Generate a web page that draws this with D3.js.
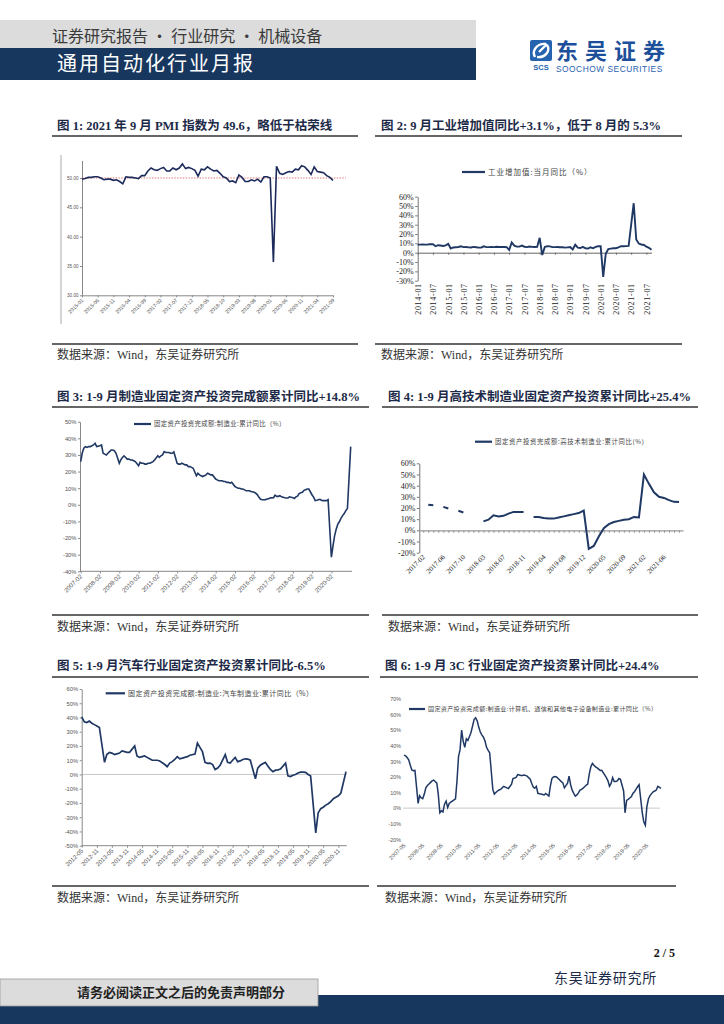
<!DOCTYPE html>
<html>
<head>
<meta charset="utf-8">
<title>通用自动化行业月报</title>
<script src="https://d3js.org/d3.v7.min.js"></script>
<style>
  body { margin: 0; background: #fff; }
</style>
</head>
<body>
<div id="page"></div>
<script>
// ---------- data ----------
// fig 1: PMI, monthly from 2015-01
var pmiStart = '2015-01';
var pmiValues = [
  49.8, 49.9, 50.1, 50.1, 50.2, 50.2, 50.0, 49.7, 49.8, 49.8, 49.6, 49.7,
  49.4, 49.0, 50.2, 50.1, 50.1, 50.0, 49.9, 50.4, 50.4, 51.2, 51.7, 51.4,
  51.3, 51.6, 51.8, 51.2, 51.2, 51.7, 51.4, 51.7, 52.4, 51.6, 51.8, 51.6,
  51.3, 50.3, 51.5, 51.4, 51.9, 51.5, 51.2, 51.3, 50.8, 50.2, 50.0, 49.4,
  49.5, 49.2, 50.5, 50.1, 49.4, 49.4, 49.7, 49.5, 49.8, 49.3, 50.2, 50.2,
  50.0, 35.7, 52.0, 50.8, 50.6, 50.9, 51.1, 51.0, 51.5, 51.4, 52.1, 51.9,
  51.3, 50.6, 51.9, 51.1, 51.0, 50.9, 50.4, 50.1, 49.6
];
var pmiTicks = ['2015-01','2015-06','2015-11','2016-04','2016-09','2017-02','2017-07','2017-12',
  '2018-05','2018-10','2019-03','2019-08','2020-01','2020-06','2020-11','2021-04','2021-09'];
var pmiYTicks = [30, 35, 40, 45, 50];
var pmiLine = 50;

// fig 2: industrial value added yoy, monthly from 2014-01
var ivaStart = '2014-01';
var ivaValues = [
  8.6, 8.6, 8.8, 8.7, 8.8, 9.2, 9.0, 6.9, 8.0, 7.7, 7.2, 7.9,
  9.5, 4.5, 5.6, 5.9, 6.1, 6.8, 6.0, 6.1, 5.7, 5.6, 6.2, 5.9,
  5.4, 5.4, 6.8, 6.0, 6.0, 6.2, 6.0, 6.3, 6.1, 6.1, 6.2, 6.0,
  3.0, 11.0, 7.6, 6.5, 6.5, 7.6, 6.4, 6.0, 6.6, 6.2, 6.1, 6.2,
  16.0, -2.5, 6.0, 7.0, 6.8, 6.0, 6.0, 6.1, 5.8, 5.9, 5.4, 5.7,
  6.0, 3.4, 8.5, 5.4, 5.0, 6.3, 4.8, 4.4, 5.8, 4.7, 6.2, 6.9,
  7.0, -25.9, -1.1, 3.9, 4.4, 4.8, 4.8, 5.6, 6.9, 6.9, 7.0, 7.3,
  30.0, 53.0, 14.1, 9.8, 8.8, 8.3, 6.4, 5.3, 3.1
];
var ivaTicks = ['2014-01','2014-07','2015-01','2015-07','2016-01','2016-07','2017-01','2017-07',
  '2018-01','2018-07','2019-01','2019-07','2020-01','2020-07','2021-01','2021-07'];
var ivaYTicks = [-30, -20, -10, 0, 10, 20, 30, 40, 50, 60];

// fig 3: manufacturing FAI cumulative yoy, Feb..Dec each year from 2007-02
var mfgStart = '2007-02';
var mfgValues = [
  26, 31, 34, 35, 34.5, 35, 35, 35.5, 36, 37, 35,
  35.5, 36, 31, 30.5, 30, 31, 32, 33, 33, 32.5, 31,
  25, 27, 28.5, 29.5, 28.5, 27.5, 27.5, 27, 27, 26.5, 26,
  23.5, 25.5, 25, 25, 24.5, 24.5, 25, 25, 25.5, 26, 27,
  29.5, 28.5, 29.5, 30, 32, 31.5, 31.5, 31.5, 31, 31, 31.8,
  25, 24.5, 24.5, 25, 24.5, 24, 24, 23, 23, 22.5, 22,
  17.5, 19, 18, 17.5, 17, 17.5, 18, 19, 18.5, 18, 18,
  15.5, 15, 14.5, 14.5, 14.5, 14, 14, 13.5, 13.5, 13, 13.5,
  11, 10.5, 10, 10, 9.5, 9.5, 9, 8.5, 8.5, 8.5, 8,
  7.5, 7, 6, 4.5, 3.3, 3, 3, 3.1, 3.5, 3.6, 4.2,
  4.3, 5.8, 5.1, 5.1, 5.5, 4.8, 4.5, 4.2, 4.1, 4.1, 4.8,
  4.3, 3.8, 4.8, 5.2, 6.8, 7.3, 7.5, 8.7, 9.1, 9.5, 9.5,
  5.9, 4.6, 2.5, 2.7, 3.0, 3.3, 2.6, 2.5, 2.6, 2.5, 3.1,
  -31.5, -25.2, -18.8, -14.8, -11.7, -10.2, -8.1, -6.5, -5.3, -3.5, -2.2,
  35
];
var mfgTicks = ['2007-02','2008-02','2009-02','2010-02','2011-02','2012-02','2013-02',
  '2014-02','2015-02','2016-02','2017-02','2018-02','2019-02','2020-02'];
var mfgYTicks = [-40, -30, -20, -10, 0, 10, 20, 30, 40, 50];

// fig 4: high-tech manufacturing FAI cumulative yoy, Feb..Dec from 2017-02 (gaps = no data)
var hiStart = '2017-02';
var hiValues = [
  null, 23, 22.5, null, 21, 19.5, null, 17.5, 16, null, null, null,
  8, 9.5, 13.5, 12.5, 13, 15, 16.5, 16.5, 16.5, null,
  12, 12, 11, 10.5, 10.5, 11.5, 12.5, 13.5, 14.5, 15.5, 17.7,
  -16.5, -14, -5.5, 2, 5.5, 7.5, 8.5, 9.5, 10, 12, 11.5,
  50, 41.6, 34, 30, 29, 27, 25.5, 25.4
];
var hiTicks = ['2017-02','2017-06','2017-10','2018-03','2018-07','2018-11','2019-04',
  '2019-08','2019-12','2020-05','2020-09','2021-02','2021-06'];
var hiYTicks = [-20, -10, 0, 10, 20, 30, 40, 50, 60];

// fig 5: auto manufacturing FAI cumulative yoy, from 2012-05, January not published
var autoStart = '2012-05';
var autoValues = [
  40.5, 37, 36.5, 37.5, 36, 35, 34, 33,
  8.5, 14, 15.5, 15, 14, 14.5, 15, 16.5, 16, 15.5, 15.5,
  20, 13, 12, 12.5, 13, 12, 11, 10, 10, 10, 9.5,
  7, 5.5, 8, 9, 10.5, 12.5, 11, 11.5, 12, 12.5, 13.5,
  14.3, 22, 19, 16, 8.5, 7.8, 8, 7, 3.5, 4.5, 6.5,
  14, 8.5, 8, 10, 12, 9, 9.5, 10.5, 11, 10.8, 10,
  -3, 4.5, 6.5, 7.5, 8.5, 6, 3.5, 2, 3, 3.2, 3.8,
  8, -1, -1.5, -0.5, 0, 1, 1.6, 1.6, 1.5, 0, -1,
  -41, -27, -24, -23, -21.5, -20.5, -19, -17, -16, -15, -13,
  2
];
var autoTicks = ['2012-05','2012-11','2013-05','2013-11','2014-05','2014-11','2015-05','2015-11',
  '2016-05','2016-11','2017-05','2017-11','2018-05','2018-11','2019-05','2019-11','2020-05','2020-11'];
var autoYTicks = [-50, -40, -30, -20, -10, 0, 10, 20, 30, 40, 50, 60];

// fig 6: computer/communication/electronics FAI cumulative yoy, from 2007-05, January not published
var cccStart = '2007-05';
var cccValues = [
  34, 33.5, 32.5, 31, 27.5, 24.5, 24, 24.2,
  3, 8, 6.5, 6, 9, 13, 14.5, 15.5, 16.5, 17.5, 18,
  16, 9, -3, -1.7, -2.4, 2.5, 4.5, 0.4, 3, 3.8, 4.5,
  6, 17, 33, 37.5, 50, 43, 39, 44.5, 43.5, 46, 48.5,
  57, 58, 56, 52, 48.8, 47, 45.5, 43, 39, 37, 35.5,
  12, 9, 10, 11, 11.6, 12, 13, 14, 13.5, 13, 12.6,
  15.4, 19, 19.3, 19.7, 21.5, 21.3, 21, 21, 21.2, 21, 20.5,
  18.5, 16, 13.5, 12.8, 14, 9.5, 9.2, 9, 8.7, 8.4, 9.4,
  7.7, 14, 19, 20, 20.3, 20, 19, 18, 17, 16.2, 13,
  16, 20.5, 15, 11.5, 9.5, 7.7, 8.5, 9.8, 11.6, 12, 12.8,
  14.8, 15.4, 22, 26.5, 28.7, 27.5, 26.5, 25.8, 25, 24.2, 24.3,
  21, 19.5, 17.5, 14, 15.8, 19.5, 17, 17, 17.5, 19, 18.5,
  11, -3, 5, 5.6, 6.5, 7.3, 9.4, 10.5, 12, 13.7, 15,
  -3, -8.8, -11, 1, 6, 8, 9.3, 10.5, 11, 11.6, 14,
  12.6
];
var cccTicks = ['2007-05','2008-05','2009-05','2010-05','2011-05','2012-05','2013-05',
  '2014-05','2015-05','2016-05','2017-05','2018-05','2019-05','2020-05'];
var cccYTicks = [-20, -10, 0, 10, 20, 30, 40, 50, 60, 70];

// ---------- helpers ----------
var NAVY = '#1f3864';
var SERIF = '"Liberation Serif", "Noto Sans CJK SC", serif';
var SANS = '"Liberation Sans", "Noto Sans CJK SC", sans-serif';
var CJK = '"Noto Sans CJK SC", "Liberation Serif", serif';

// month labels "YYYY-MM" starting at start, optionally skipping January
function monthLabels(start, n, skipJan) {
  var p = start.split('-'), y = +p[0], m = +p[1], out = [];
  while (out.length < n) {
    if (!(skipJan && m === 1)) out.push(y + '-' + (m < 10 ? '0' + m : m));
    m++;
    if (m > 12) { m = 1; y++; }
  }
  return out;
}
function parseMonth(s) { var p = s.split('-'); return new Date(+p[0], +p[1] - 1, 1); }

function styleAxis(g, font, size, color, lineColor) {
  g.attr('font-family', font).attr('font-size', size);
  g.select('.domain').attr('stroke', lineColor || '#888');
  g.selectAll('.tick line').attr('stroke', lineColor || '#888');
  g.selectAll('.tick text').attr('fill', color);
}
function rotateLabels(g, off, angle) {
  g.selectAll('.tick text')
    .attr('x', 0).attr('y', 0).attr('dy', '0.35em')
    .attr('text-anchor', 'end')
    .attr('transform', 'translate(0,' + off + ') rotate(' + angle + ')');
}
function hline(x1, x2, y, color, w) {
  return svg.append('line').attr('x1', x1).attr('x2', x2).attr('y1', y).attr('y2', y)
    .attr('stroke', color).attr('stroke-width', w);
}
function legend(x1, x2, y, label, size, spacing) {
  hline(x1, x2, y, NAVY, 2.2);
  svg.append('text').attr('x', x2 + 3).attr('y', y + size * 0.36)
    .attr('font-family', CJK).attr('font-size', size).attr('letter-spacing', spacing || 0)
    .attr('fill', '#444').text(label);
}

var svg = d3.select('#page').append('svg').attr('width', 724).attr('height', 1024);

// ---------- header ----------
svg.append('rect').attr('x', 0).attr('y', 20).attr('width', 476).attr('height', 28).attr('fill', '#dcdcdc');
svg.append('rect').attr('x', 0).attr('y', 48).attr('width', 476).attr('height', 32).attr('fill', '#17375e');
svg.append('text').attr('x', 52).attr('y', 42).attr('font-family', CJK).attr('font-size', 16)
  .attr('fill', '#3a3a3a').text('证券研究报告 · 行业研究 · 机械设备');
svg.append('text').attr('x', 57).attr('y', 71).attr('font-family', CJK).attr('font-size', 20)
  .attr('letter-spacing', 2).attr('fill', '#fff').text('通用自动化行业月报');

// logo
svg.append('rect').attr('x', 530).attr('y', 40).attr('width', 22).attr('height', 21).attr('rx', 2).attr('fill', '#2563b0');
svg.append('path').attr('d', 'M535,57 C531,50 538,43 546,44 M547,44 L539,52 M547,45 C551,51 545,58 537,57')
  .attr('fill', 'none').attr('stroke', '#fff').attr('stroke-width', 2.4);
svg.append('text').attr('x', 541).attr('y', 70).attr('text-anchor', 'middle').attr('font-family', SANS)
  .attr('font-size', 7.5).attr('font-weight', 'bold').attr('fill', '#2563b0').text('SCS');
svg.append('text').attr('x', 556).attr('y', 58.5).attr('font-family', CJK).attr('font-size', 22)
  .attr('font-weight', 'bold').attr('letter-spacing', 7).attr('fill', '#1e4f9a').text('东吴证券');
svg.append('text').attr('x', 556).attr('y', 71.5).attr('font-family', SANS).attr('font-size', 8.4)
  .attr('letter-spacing', 0.5).attr('fill', '#2a62b0').text('SOOCHOW SECURITIES');

// ---------- titles / sources ----------
var titles = [
  { x: 57, y: 129.5, t: '图 1:  2021 年 9 月 PMI 指数为 49.6，略低于枯荣线' },
  { x: 381, y: 129.5, t: '图 2:  9 月工业增加值同比+3.1%，低于 8 月的 5.3%' },
  { x: 57, y: 400.5, t: '图 3:  1-9 月制造业固定资产投资完成额累计同比+14.8%' },
  { x: 388, y: 400.5, t: '图 4:  1-9 月高技术制造业固定资产投资累计同比+25.4%' },
  { x: 57, y: 670, t: '图 5:  1-9 月汽车行业固定资产投资累计同比-6.5%' },
  { x: 385, y: 670, t: '图 6:  1-9 月 3C 行业固定资产投资累计同比+24.4%' }
];
titles.forEach(function(d) {
  svg.append('text').attr('x', d.x).attr('y', d.y).attr('font-family', SERIF)
    .attr('font-size', 12.5).attr('font-weight', 'bold').attr('fill', '#1c2a48').text(d.t);
});
hline(52, 358, 136, '#333', 1.6); hline(375, 682, 136, '#333', 1.6);
hline(52, 369, 407, '#333', 1.6); hline(382, 698, 407, '#333', 1.6);
hline(52, 369, 677, '#333', 1.6); hline(380, 698, 677, '#333', 1.6);

var sources = [[57, 359, 52, 358, 344], [381, 359, 375, 682, 344],
  [57, 630.5, 52, 369, 615], [388, 630.5, 382, 698, 615],
  [57, 901.5, 52, 369, 886], [385, 901.5, 377, 676, 886]];
sources.forEach(function(s) {
  hline(s[2], s[3], s[4], '#333', 1.4);
  svg.append('text').attr('x', s[0]).attr('y', s[1]).attr('font-family', SERIF)
    .attr('font-size', 12).attr('fill', '#333').text('数据来源：Wind，东吴证券研究所');
});

// ---------- fig 1 ----------
(function() {
  var cats = monthLabels(pmiStart, pmiValues.length, false);
  var x = d3.scalePoint().domain(cats).range([82, 333]);
  var y = d3.scaleLinear().domain([30, 53]).range([295.3, 160.4]);

  svg.append('line').attr('x1', 61).attr('x2', 61).attr('y1', 155).attr('y2', 324)
    .attr('stroke', '#aaa').attr('stroke-width', 1);

  var gy = svg.append('g').attr('transform', 'translate(82,0)')
    .call(d3.axisLeft(y).tickValues(pmiYTicks).tickFormat(d3.format('.2f')).tickSize(2).tickPadding(1.5).tickSizeOuter(0));
  styleAxis(gy, SANS, 4.6, '#555');

  var gx = svg.append('g').attr('transform', 'translate(0,' + y(30) + ')')
    .call(d3.axisBottom(x).tickValues(pmiTicks).tickSize(2).tickSizeOuter(0));
  styleAxis(gx, SANS, 5.2, '#555');
  rotateLabels(gx, 4, -45);

  // boom-bust line at 50
  hline(82, 346, y(pmiLine), '#e2625e', 0.9).attr('stroke-dasharray', '1.4,1.4');

  svg.append('path').datum(pmiValues)
    .attr('d', d3.line().x(function(d, i) { return x(cats[i]); }).y(function(d) { return y(d); }))
    .attr('fill', 'none').attr('stroke', '#1c2a5c').attr('stroke-width', 1.6);
})();

// ---------- fig 2 ----------
(function() {
  var cats = monthLabels(ivaStart, ivaValues.length, false);
  var x = d3.scalePoint().domain(cats).range([417.7, 651.5]);
  var y = d3.scaleLinear().domain([-30, 60]).range([280.7, 196.7]);

  legend(462, 485, 172, '工业增加值:当月同比（%）', 7.5, 1);

  var gy = svg.append('g').attr('transform', 'translate(417.7,0)')
    .call(d3.axisLeft(y).tickValues(ivaYTicks).tickFormat(function(d) { return d + '%'; })
      .tickSize(2.5).tickPadding(1.5).tickSizeOuter(0));
  styleAxis(gy, SERIF, 8, '#222', '#777');

  var gz = svg.append('g').attr('transform', 'translate(0,' + y(0) + ')')
    .call(d3.axisBottom(x).tickValues(ivaTicks).tickFormat('').tickSize(2).tickSizeOuter(0));
  styleAxis(gz, SERIF, 8, '#222', '#666');

  var gl = svg.append('g').attr('transform', 'translate(0,' + y(-30) + ')')
    .call(d3.axisBottom(x).tickValues(ivaTicks).tickSize(0).tickSizeOuter(0));
  styleAxis(gl, SERIF, 8, '#222');
  gl.select('.domain').remove();
  rotateLabels(gl, 2.5, -90);
  gl.selectAll('.tick text').attr('letter-spacing', 0.7);

  svg.append('path').datum(ivaValues)
    .attr('d', d3.line().x(function(d, i) { return x(cats[i]); }).y(function(d) { return y(d); }))
    .attr('fill', 'none').attr('stroke', NAVY).attr('stroke-width', 1.9);
})();

// ---------- fig 3 ----------
(function() {
  var dates = monthLabels(mfgStart, mfgValues.length, true).map(parseMonth);
  var x = d3.scaleTime().domain([parseMonth('2007-02'), parseMonth('2021-02')]).range([80.7, 350.7]);
  var y = d3.scaleLinear().domain([-40, 50]).range([571.3, 421.7]);

  legend(134, 151, 424, '固定资产投资完成额:制造业:累计同比（%）', 6.4, 0.35);

  var gy = svg.append('g').attr('transform', 'translate(80,0)')
    .call(d3.axisLeft(y).tickValues(mfgYTicks).tickFormat(function(d) { return d + '%'; })
      .tickSize(2).tickPadding(1.5).tickSizeOuter(0));
  styleAxis(gy, SANS, 5.8, '#555');

  var gx = svg.append('g').attr('transform', 'translate(0,' + y(-40) + ')')
    .call(d3.axisBottom(x).tickValues(mfgTicks.map(parseMonth)).tickFormat(d3.timeFormat('%Y-%m'))
      .tickSize(2).tickSizeOuter(0));
  styleAxis(gx, SANS, 6.2, '#555');
  gx.select('.domain').attr('d', 'M80,0H352');
  rotateLabels(gx, 4, -45);

  svg.append('path').datum(mfgValues)
    .attr('d', d3.line().x(function(d, i) { return x(dates[i]); }).y(function(d) { return y(d); }))
    .attr('fill', 'none').attr('stroke', NAVY).attr('stroke-width', 1.6);
})();

// ---------- fig 4 ----------
(function() {
  var cats = monthLabels(hiStart, hiValues.length, true);
  var x = d3.scalePoint().domain(cats).range([419.3, 683]).padding(0.79);
  var y = d3.scaleLinear().domain([-20, 60]).range([552.7, 463.3]);

  legend(475, 492, 441.7, '固定资产投资完成额:高技术制造业:累计同比(%)', 6.4, 0.6);

  var gy = svg.append('g').attr('transform', 'translate(419.3,0)')
    .call(d3.axisLeft(y).tickValues(hiYTicks).tickFormat(function(d) { return d + '%'; })
      .tickSize(2.5).tickPadding(1.5).tickSizeOuter(0));
  styleAxis(gy, SERIF, 8, '#222', '#777');

  var gz = svg.append('g').attr('transform', 'translate(0,' + y(0) + ')')
    .call(d3.axisBottom(x).tickValues(cats).tickFormat('').tickSize(2.5).tickSizeOuter(0));
  styleAxis(gz, SERIF, 8, '#222', '#999');
  gz.select('.domain').attr('stroke-width', 1.4);

  var gl = svg.append('g').attr('transform', 'translate(0,' + y(-20) + ')')
    .call(d3.axisBottom(x).tickValues(hiTicks).tickSize(0).tickSizeOuter(0));
  styleAxis(gl, SERIF, 7, '#222');
  gl.select('.domain').remove();
  rotateLabels(gl, 3, -45);

  svg.append('path').datum(hiValues)
    .attr('d', d3.line().defined(function(d) { return d !== null; })
      .x(function(d, i) { return x(cats[i]); }).y(function(d) { return y(d); }))
    .attr('fill', 'none').attr('stroke', NAVY).attr('stroke-width', 2);
})();

// ---------- fig 5 ----------
(function() {
  var dates = monthLabels(autoStart, autoValues.length, true).map(parseMonth);
  var x = d3.scaleTime().domain([parseMonth('2012-05'), parseMonth('2021-02')]).range([81.7, 346]);
  var y = d3.scaleLinear().domain([-50, 60]).range([845.7, 689]);

  legend(105.7, 125, 693.3, '固定资产投资完成额:制造业:汽车制造业:累计同比（%）', 7, 0.45);

  hline(81.7, 346.7, y(0), '#c8c8c8', 1);

  var gy = svg.append('g').attr('transform', 'translate(81.7,0)')
    .call(d3.axisLeft(y).tickValues(autoYTicks).tickFormat(function(d) { return d + '%'; })
      .tickSize(2).tickPadding(1.5).tickSizeOuter(0));
  styleAxis(gy, SANS, 5.8, '#555');

  var gx = svg.append('g').attr('transform', 'translate(0,' + y(-50) + ')')
    .call(d3.axisBottom(x).tickValues(autoTicks.map(parseMonth)).tickFormat(d3.timeFormat('%Y-%m'))
      .tickSize(2).tickSizeOuter(0));
  styleAxis(gx, SANS, 6, '#555');
  gx.select('.domain').attr('d', 'M81.7,0H346.7');
  rotateLabels(gx, 4, -45);

  svg.append('path').datum(autoValues)
    .attr('d', d3.line().x(function(d, i) { return x(dates[i]); }).y(function(d) { return y(d); }))
    .attr('fill', 'none').attr('stroke', NAVY).attr('stroke-width', 1.7);
})();

// ---------- fig 6 ----------
(function() {
  var dates = monthLabels(cccStart, cccValues.length, true).map(parseMonth);
  var x = d3.scaleTime().domain([parseMonth('2007-05'), parseMonth('2021-02')]).range([404, 661]);
  var y = d3.scaleLinear().domain([-20, 70]).range([839.3, 699]);

  legend(409, 425, 709, '固定资产投资完成额:制造业:计算机、通信和其他电子设备制造业:累计同比（%）', 6.1, 0.3);

  hline(403, 660, y(0), '#c8c8c8', 1);

  var gy = svg.append('g').attr('transform', 'translate(403,0)')
    .call(d3.axisLeft(y).tickValues(cccYTicks).tickFormat(function(d) { return d + '%'; })
      .tickSize(0).tickPadding(2));
  styleAxis(gy, SANS, 5.4, '#555');
  gy.select('.domain').remove();

  var gx = svg.append('g').attr('transform', 'translate(0,' + y(-20) + ')')
    .call(d3.axisBottom(x).tickValues(cccTicks.map(parseMonth)).tickFormat(d3.timeFormat('%Y-%m'))
      .tickSize(0));
  styleAxis(gx, SANS, 5.6, '#555');
  gx.select('.domain').remove();
  rotateLabels(gx, 5, -45);

  svg.append('path').datum(cccValues)
    .attr('d', d3.line().x(function(d, i) { return x(dates[i]); }).y(function(d) { return y(d); }))
    .attr('fill', 'none').attr('stroke', NAVY).attr('stroke-width', 1.5);
})();

// ---------- footer ----------
svg.append('text').attr('x', 675).attr('y', 957).attr('text-anchor', 'end').attr('font-family', SERIF)
  .attr('font-size', 12).attr('font-weight', 'bold').attr('fill', '#111').text('2 / 5');
svg.append('text').attr('x', 554).attr('y', 983).attr('font-family', CJK).attr('font-size', 14)
  .attr('letter-spacing', 0.7).attr('fill', '#1a2a48').text('东吴证券研究所');
svg.append('rect').attr('x', 0).attr('y', 995).attr('width', 724).attr('height', 29).attr('fill', '#17375e');
svg.append('rect').attr('x', 0).attr('y', 979).attr('width', 318).attr('height', 27)
  .attr('fill', '#dcdcdc').attr('stroke', '#9a9a9a').attr('stroke-width', 0.8);
svg.append('text').attr('x', 77).attr('y', 997).attr('font-family', CJK).attr('font-size', 13)
  .attr('font-weight', 'bold').attr('fill', '#222').text('请务必阅读正文之后的免责声明部分');
</script>
</body>
</html>
